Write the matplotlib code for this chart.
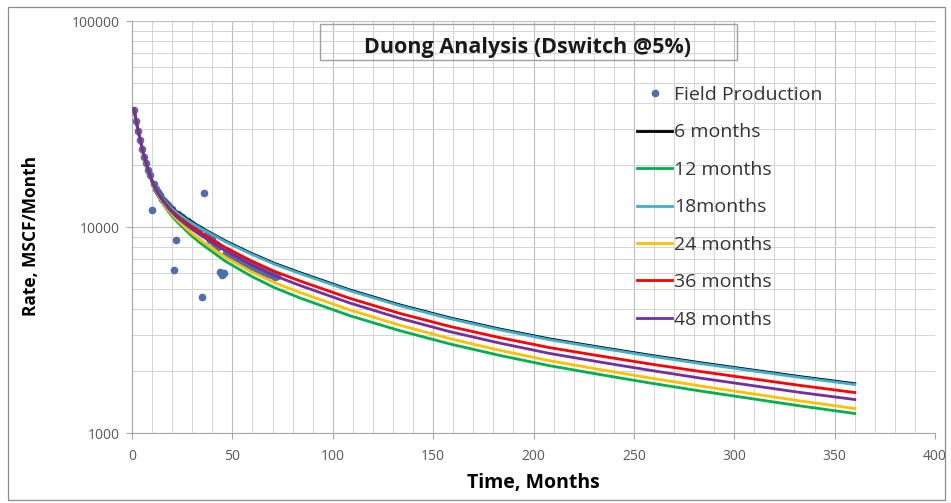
import matplotlib
matplotlib.use("Agg")
import matplotlib.pyplot as plt
from matplotlib.patches import Rectangle
from matplotlib.ticker import FixedLocator, NullFormatter, FuncFormatter, MultipleLocator

plt.rcParams['font.family'] = ['Open Sans', 'DejaVu Sans']

# Field production history (month, MSCF/month)
field_months = list(range(1, 73))
field_rates = [37000, 33000, 29500, 26500, 24000, 22000, 20500, 19000, 18000, 12200,
               16200, 15300, 14800, 14300, 13800, 13500, 13100, 12900, 12500, 12300,
               6200, 8700, 11600, 11400, 11200, 11000, 10800, 10700, 10500, 10400,
               10200, 10100, 9900, 9800, 4600, 14700, 9200, 9000, 8700, 8800,
               8400, 8300, 8000, 6050, 5880, 5980, 7500, 7700, 7250, 7400,
               7100, 7300, 6900, 7050, 6750, 6900, 6600, 6750, 6450, 6600,
               6300, 6450, 6200, 6300, 6050, 6150, 5950, 6050, 5850, 5900,
               5750, 5800]

# Forecast times (months) and rates for each history length
fc_months = [1, 2, 3, 4, 5.5, 7.5, 9, 10.5, 13, 15.5, 19, 22.5, 29, 34, 46.5, 59, 71,
             84, 108.5, 133.5, 158.5, 183, 208, 233, 258, 283, 308, 333, 360]
rate_6m = [37600, 33250, 29740, 26900, 23260, 19890, 17980, 16440, 14900, 13810,
           12660, 11870, 10730, 10035, 8607, 7524, 6693, 6019, 4976, 4208, 3638,
           3218, 2878, 2623, 2399, 2207, 2040, 1887, 1745]
rate_12m = [37600, 33250, 29740, 26810, 23080, 19620, 17620, 15990, 14250, 13000,
            11630, 10640, 9245, 8410, 6860, 5830, 5100, 4535, 3730, 3153, 2718,
            2395, 2133, 1933, 1758, 1608, 1479, 1360, 1250]
rate_18m = [37600, 33250, 29740, 26900, 23260, 19890, 17980, 16440, 14870, 13750,
            12580, 11760, 10630, 9945, 8530, 7457, 6633, 5965, 4932, 4170, 3606,
            3189, 2852, 2600, 2378, 2187, 2022, 1870, 1729]
rate_24m = [37600, 33250, 29740, 26840, 23130, 19670, 17700, 16080, 14380, 13150,
            11830, 10880, 9505, 8700, 7175, 6132, 5394, 4824, 3979, 3353, 2884,
            2536, 2255, 2045, 1860, 1701, 1564, 1438, 1322]
rate_36m = [37600, 33250, 29740, 26900, 23210, 19800, 17860, 16290, 14670, 13510,
            12270, 11400, 10190, 9460, 7995, 6920, 6120, 5486, 4530, 3826, 3305,
            2923, 2611, 2380, 2175, 2000, 1849, 1710, 1581]
rate_48m = [37600, 33250, 29740, 26900, 23180, 19760, 17800, 16220, 14570, 13370,
            12100, 11180, 9940, 9195, 7715, 6631, 5833, 5217, 4299, 3622, 3118,
            2749, 2447, 2223, 2027, 1858, 1714, 1581, 1462]

series = [
    ("6 months", rate_6m, "#000000"),
    ("12 months", rate_12m, "#00B050"),
    ("18months", rate_18m, "#3FB0CC"),
    ("24 months", rate_24m, "#FFC000"),
    ("36 months", rate_36m, "#FF0000"),
    ("48 months", rate_48m, "#7030A0"),
]

fig = plt.figure(figsize=(9.51, 5.03), dpi=100)
fig.patch.set_facecolor("white")
fig.add_artist(Rectangle((8 / 951, 1 - 500 / 503), 937 / 951, 493 / 503,
                         transform=fig.transFigure, fill=False,
                         edgecolor="#8c8c8c", lw=0.9))

ax = fig.add_axes([0.1388, 0.1382, 0.8444, 0.8191])
ax.set_yscale("log")
ax.set_xlim(0, 400)
ax.set_ylim(1000, 100000)

ax.xaxis.set_major_locator(MultipleLocator(50))
ax.xaxis.set_minor_locator(MultipleLocator(10))
ax.yaxis.set_major_locator(FixedLocator([1000, 10000, 100000]))
ax.yaxis.set_minor_locator(FixedLocator([m * d for d in (1000, 10000) for m in range(2, 10)]))
ax.yaxis.set_major_formatter(FuncFormatter(lambda v, p: f"{int(round(v))}"))
ax.yaxis.set_minor_formatter(NullFormatter())

ax.grid(which="major", color="#bdbdbd", lw=0.8)
ax.grid(which="minor", color="#d4d4d4", lw=0.7)
ax.set_axisbelow(True)
for side in ("top", "right"):
    ax.spines[side].set_visible(False)
for side in ("left", "bottom"):
    ax.spines[side].set_color("#a6a6a6")
ax.tick_params(which="major", length=4, color="#a6a6a6", labelsize=10,
               labelcolor="#595959")
ax.tick_params(axis="x", pad=7)
ax.tick_params(axis="y", pad=5)
ax.tick_params(which="minor", length=0)

ax.plot(field_months, field_rates, linestyle="none", marker="o", ms=4.5,
        color="#4F6FA8", label="Field Production", zorder=3)
for name, vals, col in series:
    ax.plot(fc_months, vals, color=col, lw=2.0, label=name, zorder=4)

ax.set_xlabel("Time, Months", fontsize=14, fontweight="bold", va="center")
ax.xaxis.set_label_coords(0.5, -0.12)
ax.set_ylabel("Rate, MSCF/Month", fontsize=12.5, fontweight="bold", va="center")
ax.yaxis.set_label_coords(-0.126, 0.48)

# Title box
fig.add_artist(Rectangle((320 / 951, 1 - 60 / 503), 417 / 951, 36 / 503,
                         transform=fig.transFigure, fill=False,
                         edgecolor="#a0a0a0", lw=1.0))
fig.text(528 / 951, 1 - 53 / 503, "Duong Analysis (Dswitch @5%)", ha="center",
         va="baseline", fontsize=15.5, fontweight="bold", color="#1a1a1a")

leg = ax.legend(loc="upper left", bbox_to_anchor=(637 / 951, 1 - 86 / 503),
                bbox_transform=fig.transFigure, frameon=False, fontsize=14,
                handlelength=1.8, handletextpad=0.1, labelspacing=1.0,
                borderaxespad=0, borderpad=0)
for t in leg.get_texts():
    t.set_color("#333333")

fig.savefig("out.png", dpi=100)
